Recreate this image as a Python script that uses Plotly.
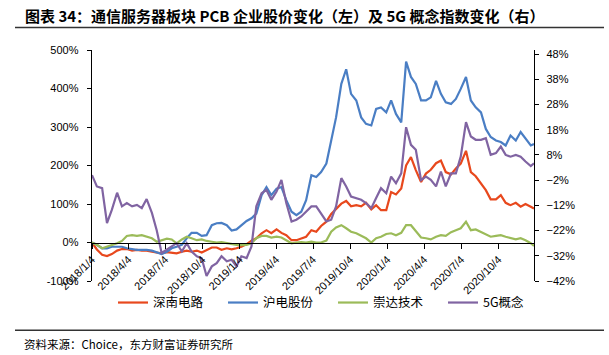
import plotly.graph_objects as go

# ---------------- data ----------------
dates = [
    "2018-01-04", "2018-01-16", "2018-01-29", "2018-02-10", "2018-02-22", "2018-03-07",
    "2018-03-19", "2018-03-31", "2018-04-13", "2018-04-25", "2018-05-07", "2018-05-19",
    "2018-06-01", "2018-06-13", "2018-06-25", "2018-07-08", "2018-07-20", "2018-08-01",
    "2018-08-14", "2018-08-26", "2018-09-07", "2018-09-20", "2018-10-02", "2018-10-14",
    "2018-10-27", "2018-11-08", "2018-11-20", "2018-12-03", "2018-12-15", "2018-12-27",
    "2019-01-08", "2019-01-21", "2019-02-02", "2019-02-14", "2019-02-27", "2019-03-11",
    "2019-03-23", "2019-04-05", "2019-04-17", "2019-04-29", "2019-05-12", "2019-05-24",
    "2019-06-05", "2019-06-17", "2019-06-30", "2019-07-12", "2019-07-24", "2019-08-06",
    "2019-08-18", "2019-08-30", "2019-09-12", "2019-09-24", "2019-10-06", "2019-10-19",
    "2019-10-31", "2019-11-12", "2019-11-25", "2019-12-07", "2019-12-19", "2020-01-01",
    "2020-01-13", "2020-01-25", "2020-02-07", "2020-02-19", "2020-03-02", "2020-03-14",
    "2020-03-27", "2020-04-08", "2020-04-20", "2020-05-03", "2020-05-15", "2020-05-27",
    "2020-06-09", "2020-06-21", "2020-07-03", "2020-07-16", "2020-07-28", "2020-08-09",
    "2020-08-22", "2020-09-03", "2020-09-15", "2020-09-28", "2020-10-10", "2020-10-22",
    "2020-11-03", "2020-11-16", "2020-11-28", "2020-12-10", "2020-12-23", "2020-12-31",
]

# 深南电路 (left axis, %)
shennan = [
    0, -18, -32, -35, -30, -21, -17, -17, -21, -19, -21, -21,
    -24, -26, -28, -25, -26, -28, -24, -21, -24, -21, -26, -19,
    -13, -13, -19, -15, -18, -15, -11, -4, 5, 11, 24, 32,
    24, 34, 25, 19, 6, 6, 11, 15, 32, 28, 43, 54,
    74, 86, 101, 108, 94, 97, 94, 103, 86, 97, 84, 84,
    131, 125, 140, 200, 222, 188, 157, 179, 189, 206, 213, 183,
    177, 192, 205, 238, 183, 172, 153, 136, 112, 112, 123, 103,
    97, 103, 93, 100, 93, 88,
]

# 沪电股份 (left axis, %)
hudian = [
    0, -6, -15, -15, -11, -11, -11, -15, -18, -19, -19, -19,
    -21, -26, -30, -24, -15, -11, -6, 11, 25, 25, 17, 19,
    45, 50, 51, 45, 31, 34, 45, 56, 63, 75, 123, 144,
    123, 140, 144, 110, 80, 71, 80, 110, 175, 170, 183, 205,
    265, 325, 412, 450, 386, 369, 325, 308, 304, 347, 351, 338,
    369, 334, 312, 470, 430, 412, 369, 369, 377, 420, 386, 364,
    360, 373, 399, 430, 369, 351, 338, 295, 274, 265, 261, 252,
    278, 265, 287, 269, 252, 256,
]

# 崇达技术 (left axis, %)
chongda = [
    0, -6, -15, -11, -6, -2, 4, 17, 19, 17, 19, 15,
    11, 2, 5, 10, 8, -2, 8, 15, 11, 6, 8, 4,
    2, 0, 1, -2, -4, -6, -7, -6, -2, 11, 17, 17,
    13, 15, 13, 6, -2, 0, 1, 0, 2, 0, 0, 5,
    28, 39, 45, 37, 28, 24, 17, 11, 0, 11, 15, 22,
    24, 19, 25, 45, 45, 31, 13, 11, 8, 15, 19, 17,
    27, 32, 37, 54, 32, 34, 27, 20, 15, 17, 19, 15,
    11, 8, 11, 6, -2, -9,
]

# 5G概念 (right axis, %)
concept_5g = [
    0, -4.5, -5.2, -19, -13.8, -7, -12.4, -11.1, -12.4, -11.8, -13.1, -9.5,
    -15, -22, -30.9, -29.6, -28.3, -27, -30.3, -27, -30.3, -32.2, -33, -40,
    -36.2, -34.9, -32.2, -34.2, -33.6, -36.2, -32.2, -32.9, -28.3, -12.4, -7.2, -5.9,
    -9.8, -6.5, -1.9, -11.1, -18.4, -17.7, -16.4, -14.4, -12.4, -12.4, -15.1, -18.4,
    -17.7, -12.4, -1.2, -4.5, -8.5, -9.1, -9.8, -11.1, -13.1, -9.1, -5.2, -7.2,
    -0.6, -3.2, 0.7, 19, 12, 10, -2, -0.6, -1.9, -4.5, 1.4, -4.5,
    0.7, 0.7, 7.3, 21, 15.3, 14, 14, 14.6, 8, 8.7, 11.3, 8,
    7.3, 8, 7.3, 5.4, 3.6, 4.7,
]

series_names = ["深南电路", "沪电股份", "崇达技术", "5G概念"]
series_colors = ["#E8481D", "#4A7EC4", "#9BBB59", "#8064A2"]

x_tickvals = ["2018-01-04", "2018-04-04", "2018-07-04", "2018-10-04",
              "2019-01-04", "2019-04-04", "2019-07-04", "2019-10-04",
              "2020-01-04", "2020-04-04", "2020-07-04", "2020-10-04"]
x_ticktext = ["2018/1/4", "2018/4/4", "2018/7/4", "2018/10/4",
              "2019/1/4", "2019/4/4", "2019/7/4", "2019/10/4",
              "2020/1/4", "2020/4/4", "2020/7/4", "2020/10/4"]

left_ticks = [-100, 0, 100, 200, 300, 400, 500]
left_ticktext = ["-100%", "0%", "100%", "200%", "300%", "400%", "500%"]
right_ticks = [-42, -32, -22, -12, -2, 8, 18, 28, 38, 48]
right_ticktext = ["\u221242%", "\u221232%", "\u221222%", "\u221212%", "\u22122%",
                  "8%", "18%", "28%", "38%", "48%"]

title_text = "图表 34：通信服务器板块 PCB 企业股价变化（左）及 5G 概念指数变化（右）"
source_text = "资料来源：Choice，东方财富证券研究所"

# ---------------- layout helpers (pixel -> paper) ----------------
W, H = 609, 355
PL, PR, PT, PB = 92, 534, 49.5, 281.5


def px(x):
    return (x - PL) / (PR - PL)


def py(y):
    return (PB - y) / (PB - PT)


fig = go.Figure()
left_series = [shennan, hudian, chongda]
for name, vals, col in zip(series_names[:3], left_series, series_colors[:3]):
    fig.add_trace(go.Scatter(x=dates, y=vals, name=name, mode="lines",
                             line=dict(color=col, width=2.2), yaxis="y"))
fig.add_trace(go.Scatter(x=dates, y=concept_5g, name=series_names[3], mode="lines",
                         line=dict(color=series_colors[3], width=2.2), yaxis="y2"))

tick_font = dict(family="Liberation Sans, Arial, sans-serif", size=11, color="#000000")

fig.update_layout(
    width=W, height=H,
    margin=dict(l=PL, r=W - PR, t=PT, b=H - PB, pad=0, autoexpand=False),
    paper_bgcolor="white", plot_bgcolor="white",
    showlegend=True,
    legend=dict(orientation="h", x=px(113), xanchor="left", y=py(303.5), yanchor="middle",
                font=dict(family="Noto Sans CJK SC", size=12.5, color="#000000"),
                entrywidth=65, entrywidthmode="pixels", bgcolor="rgba(0,0,0,0)",
                itemwidth=30, tracegroupgap=0),
    xaxis=dict(type="date", range=["2018-01-04", "2020-12-31"],
               anchor="free", position=1 / 6, automargin=False,
               tickmode="array", tickvals=x_tickvals, ticktext=x_ticktext,
               tickangle=-45, ticks="outside", ticklen=5, tickcolor="#000000",
               showline=True, linecolor="#000000", linewidth=1.3,
               showgrid=False, zeroline=False, tickfont=tick_font),
    yaxis=dict(range=[-100, 500], tickmode="array", tickvals=left_ticks,
               ticktext=left_ticktext, ticks="outside", ticklen=4, automargin=False,
               tickcolor="#000000", showline=True, linecolor="#000000",
               linewidth=1.3, showgrid=False, zeroline=False, tickfont=tick_font,
               ticklabelstandoff=6),
    yaxis2=dict(range=[-42, 49.6], overlaying="y", side="right", anchor="x",
                automargin=False,
                tickmode="array", tickvals=right_ticks, ticktext=right_ticktext,
                ticks="outside", ticklen=4, tickcolor="#000000", showline=True,
                linecolor="#000000", linewidth=1.3, showgrid=False, zeroline=False,
                tickfont=tick_font, ticklabelstandoff=5),
)

fig.add_annotation(text="<b>" + title_text + "</b>", xref="paper", yref="paper",
                   x=px(23), y=py(15), xanchor="left", yanchor="middle",
                   showarrow=False,
                   font=dict(family="Noto Sans CJK SC", size=15, color="#000000"))
fig.add_annotation(text=source_text, xref="paper", yref="paper",
                   x=px(22), y=py(345), xanchor="left", yanchor="middle",
                   showarrow=False,
                   font=dict(family="Noto Sans CJK SC", size=11.5, color="#000000"))
for yline in (27, 331):
    fig.add_shape(type="line", xref="paper", yref="paper",
                  x0=px(15), x1=px(604), y0=py(yline), y1=py(yline),
                  line=dict(color="#333333", width=1.5))

fig.write_html(
    "out.html",
    config={"displayModeBar": False, "staticPlot": True},
    post_script="document.body.style.margin='0';document.body.style.padding='0';",
)
